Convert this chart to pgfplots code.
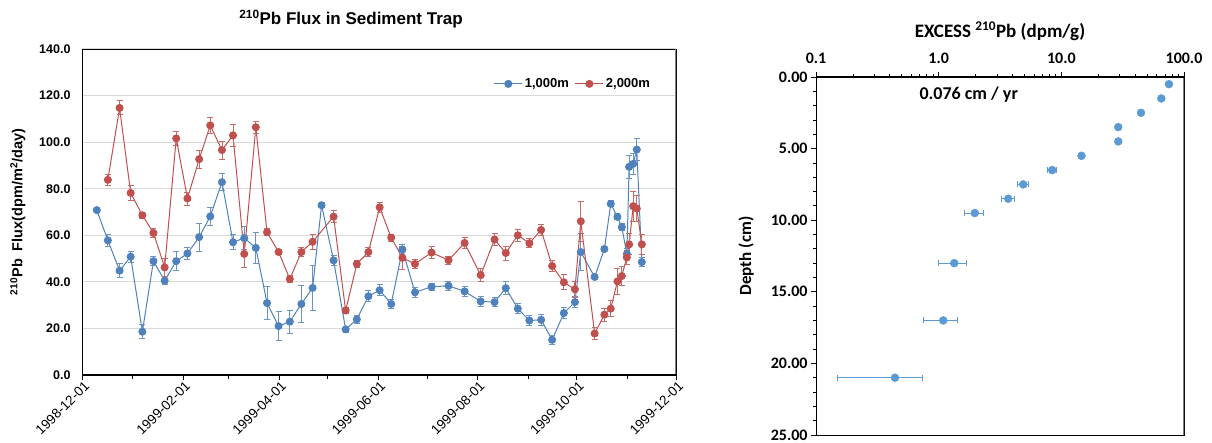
\documentclass[border=0pt]{standalone}
\usepackage{fontspec}
\setmainfont{Liberation Sans}
\newfontfamily\calibri{Carlito}
\usepackage{pgfplots}
\usepackage{pgfplotstable}
\pgfplotsset{compat=1.18}

\definecolor{blueA}{HTML}{4F81BD}
\definecolor{redA}{HTML}{C0504D}
\definecolor{blueB}{HTML}{5B9BD5}
\definecolor{gridgray}{HTML}{D9D9D9}
\definecolor{edgegray}{HTML}{7F7F7F}

% Sediment trap flux, 1,000 m (day counted from 1998-12-01, flux, error)
\pgfplotstableread{
d v e
9.1 70.8 0.6
15.9 57.8 2.5
23.1 44.8 3.0
29.9 50.8 2.3
37.1 18.6 3.0
43.9 48.9 2.0
50.8 40.5 1.8
57.9 48.9 4.0
64.8 52.2 2.7
72.0 59.2 6.0
78.8 68.1 4.0
86.0 82.8 3.6
92.8 57.0 3.3
99.7 58.8 4.9
106.8 54.6 6.7
113.7 30.9 7.2
120.8 21.0 6.3
127.7 22.9 5.0
134.8 30.5 7.8
141.7 37.4 9.5
147.2 72.9 1.0
154.6 49.2 2.0
162.0 19.6 1.3
168.9 23.9 1.8
176.0 33.8 2.3
182.9 36.4 2.3
190.0 30.5 2.0
196.9 53.9 2.3
204.6 35.5 2.0
214.8 37.9 1.5
225.2 38.3 1.8
235.1 35.9 2.0
245.0 31.6 2.0
253.5 31.3 2.0
260.4 37.3 2.7
267.8 28.5 2.2
274.9 23.4 2.3
282.1 23.7 2.3
288.9 15.1 2.0
296.1 26.6 2.2
302.9 31.3 2.5
306.5 52.8 8.0
315.0 42.1 0.8
321.0 54.1 1.0
324.9 73.5 1.3
329.0 67.9 1.3
331.7 63.5 1.5
334.8 52.0 2.3
336.2 89.4 5.0
338.7 90.7 4.6
340.9 96.8 4.6
344.0 48.5 2.0
}\trapA

% Sediment trap flux, 2,000 m
\pgfplotstableread{
d v e
15.9 83.8 2.3
23.1 114.7 3.0
29.9 78.2 3.3
37.1 68.6 1.3
43.9 61.0 1.8
50.8 46.2 3.7
57.9 101.6 3.2
64.8 75.8 2.8
72.0 92.7 3.8
78.8 107.2 3.3
86.0 96.6 3.9
92.8 102.9 4.6
99.7 52.0 5.8
106.8 106.4 2.5
113.7 61.3 1.5
120.8 52.8 1.2
127.7 41.2 1.5
134.8 52.8 1.8
141.7 57.2 3.2
154.6 68.0 2.7
162.0 27.7 1.3
168.9 47.7 1.5
176.0 52.8 1.8
182.9 72.0 2.3
190.0 59.0 1.5
196.9 50.3 4.8
204.6 47.7 2.0
214.8 52.6 2.5
225.2 49.3 1.8
235.1 56.7 2.3
245.0 42.9 2.7
253.5 58.2 2.6
260.4 52.4 3.0
267.8 60.0 2.5
274.9 56.6 2.0
282.1 62.3 2.2
288.9 46.8 2.3
296.1 39.8 3.2
302.9 36.8 3.5
306.5 66.0 8.7
315.0 17.8 2.5
321.0 25.9 2.7
324.9 28.5 3.5
329.0 40.2 5.5
331.7 42.5 4.2
334.8 50.5 3.0
336.2 56.1 4.5
338.7 72.5 6.5
340.9 71.5 5.6
344.0 56.1 4.3
}\trapB

% Core profile: excess 210Pb (dpm/g), depth (cm), error
\pgfplotstableread{
x y e
75.4 0.5 0
65.3 1.5 0
44.6 2.5 0
29.1 3.5 0
29.1 4.5 0
14.6 5.5 0.3
8.43 6.5 0.7
4.89 7.5 0.47
3.69 8.5 0.47
1.97 9.5 0.34
1.34 13 0.34
1.09 17 0.34
0.44 21 0.29
}\core

\begin{document}
\begin{tikzpicture}[x=1pt,y=1pt]
\useasboundingbox (0,0) rectangle (1212,443);

% ---------------- flux time series ----------------
\node[font=\fontsize{17}{19}\selectfont\bfseries] at (351,424)
  {\textsuperscript{210}Pb Flux in Sediment Trap};
\begin{axis}[
  at={(82pt,68pt)}, anchor=south west,
  scale only axis, width=594pt, height=326pt,
  xmin=0, xmax=365, ymin=0, ymax=140,
  axis line style={black, line width=0.8pt},
  xtick={0,62,121,182,243,304,365},
  xticklabels={1998-12-01,1999-02-01,1999-04-01,1999-06-01,1999-08-01,1999-10-01,1999-12-01},
  minor xtick={31,90,151,212,274,335},
  xtick pos=lower, tick align=outside,
  major tick length=5pt, minor tick length=4pt,
  every tick/.style={black, line width=0.8pt},
  xticklabel style={rotate=45, anchor=north east, inner sep=1pt, xshift=2pt,
    font=\fontsize{13.5}{15}\selectfont},
  ytick={0,20,...,140},
  yticklabels={0.0,20.0,40.0,60.0,80.0,100.0,120.0,140.0},
  ytick pos=left, ytick style={draw=none},
  yticklabel style={font=\fontsize{12.5}{14}\selectfont\bfseries, xshift=-3pt},
  ymajorgrids, grid style={gridgray, line width=1pt},
  ylabel={\textsuperscript{210}Pb\ \ Flux(dpm/m\textsuperscript{2}/day)},
  ylabel style={font=\fontsize{14.5}{16}\selectfont\bfseries,
    at={(axis description cs:-0.108,0.5)}, anchor=center},
  legend style={at={(0.965,0.893)}, anchor=east, draw=none, fill=none,
    font=\fontsize{13}{15}\selectfont\bfseries, legend columns=2,
    /tikz/every even column/.append style={column sep=4pt}},
  legend image code/.code={\draw[mark repeat=2,mark phase=2,#1]
    plot coordinates {(0pt,0pt) (14pt,0pt) (28pt,0pt)};},
  error bars/y dir=both, error bars/y explicit,
]
\addplot[blueA, line width=1pt, mark=*, mark size=3.5pt,
  mark options={fill=blueA, draw=blueA},
  error bars/error bar style={blueA!85, line width=0.9pt},
  error bars/error mark options={blueA!85, line width=0.9pt, mark size=3pt, rotate=90}]
  table[x=d, y=v, y error=e] {\trapA};
\addlegendentry{1,000m}
\addplot[redA, line width=1pt, mark=*, mark size=3.5pt,
  mark options={fill=redA, draw=redA},
  error bars/error bar style={redA!85, line width=0.9pt},
  error bars/error mark options={redA!85, line width=0.9pt, mark size=3pt, rotate=90}]
  table[x=d, y=v, y error=e] {\trapB};
\addlegendentry{2,000m}
% frame: grey right edge, heavy left and bottom axes
\draw[edgegray, line width=1.6pt] (rel axis cs:1,0) -- (rel axis cs:1,1);
\draw[black, line width=1.6pt] (rel axis cs:0,1) -- (rel axis cs:0,0) -- (rel axis cs:1,0);
\end{axis}

% ---------------- excess 210Pb depth profile ----------------
\begin{axis}[
  at={(816pt,8pt)}, anchor=south west,
  scale only axis, width=368pt, height=358pt,
  xmode=log, xmin=0.1, xmax=100,
  ymin=0, ymax=25, y dir=reverse,
  axis line style={black, line width=0.8pt},
  xtick={0.1,1,10,100},
  xticklabels={0.1,1.0,10.0,100.0},
  minor xtick={0.2,0.3,0.4,0.5,0.6,0.7,0.8,0.9,2,3,4,5,6,7,8,9,20,30,40,50,60,70,80,90},
  xtick pos=upper, xticklabel pos=upper,
  xticklabel style={yshift=5pt},
  ytick={0,5,...,25},
  yticklabels={0.00,5.00,10.00,15.00,20.00,25.00},
  minor ytick={1,2,3,4,6,7,8,9,11,12,13,14,16,17,18,19,21,22,23,24},
  ytick pos=left,
  tick align=outside, major tick length=5pt, minor tick length=3pt,
  every tick/.style={black, line width=0.8pt},
  ticklabel style={font=\calibri\fontsize{16}{18}\selectfont\bfseries},
  xlabel={EXCESS \textsuperscript{210}Pb (dpm/g)},
  xlabel style={font=\calibri\fontsize{19}{21}\selectfont\bfseries,
    at={(axis description cs:0.5,1)}, anchor=south, yshift=33pt},
  ylabel={Depth (cm)},
  ylabel style={font=\calibri\fontsize{17}{19}\selectfont\bfseries,
    at={(axis description cs:-0.19,0.5)}, anchor=center},
  error bars/x dir=both, error bars/x explicit,
]
\addplot[only marks, mark=*, mark size=4pt, mark options={fill=blueB, draw=blueB},
  error bars/error bar style={blueB, line width=0.8pt},
  error bars/error mark options={blueB, line width=0.8pt, mark size=3pt, rotate=90}]
  table[x=x, y=y, x error=e] {\core};
% frame: grey right edge, heavy left and top axes
\draw[edgegray, line width=1.4pt] (axis description cs:1,0) -- (axis description cs:1,1);
\draw[black, line width=1.6pt] (axis description cs:0,0) -- (axis description cs:0,1) -- (axis description cs:1,1);
\node[font=\calibri\fontsize{18}{20}\selectfont\bfseries] at (axis description cs:0.415,0.95) {0.076 cm / yr};
\end{axis}
\end{tikzpicture}
\end{document}
